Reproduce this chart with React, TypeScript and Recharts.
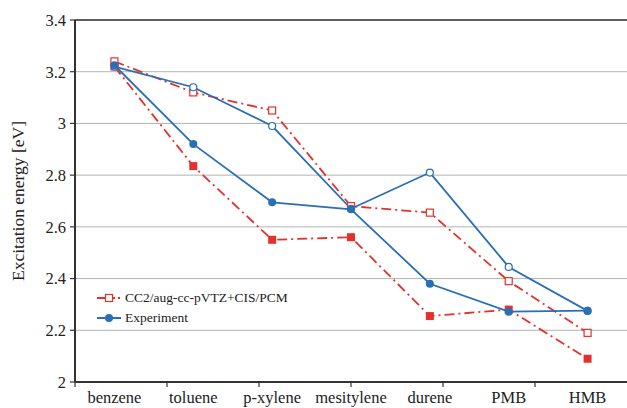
import {
  LineChart,
  Line,
  XAxis,
  YAxis,
  CartesianGrid,
  ReferenceLine,
} from "recharts";

const CATEGORIES = ["benzene", "toluene", "p-xylene", "mesitylene", "durene", "PMB", "HMB"];
const CALC_OPEN = [3.24, 3.12, 3.05, 2.68, 2.655, 2.39, 2.19];
const CALC_FILLED = [3.22, 2.835, 2.55, 2.56, 2.255, 2.28, 2.09];
const EXP_OPEN = [3.22, 3.14, 2.99, 2.67, 2.81, 2.445, 2.275];
const EXP_FILLED = [3.225, 2.92, 2.695, 2.668, 2.38, 2.272, 2.276];
const Y_TICKS = [2, 2.2, 2.4, 2.6, 2.8, 3, 3.2, 3.4];
const BOUNDARY_TICKS = [0, 1, 2, 3, 4, 5, 6, 7];

const RED = "#e3322b";
const BLUE = "#2a6fb6";
const AXIS = "#333333";
const FONT = "'Liberation Serif', 'DejaVu Serif', serif";
const DASH_DOT = "10 4 2 4";

const data = CATEGORIES.map((name, i) => ({
  name,
  calcOpen: CALC_OPEN[i],
  calcFilled: CALC_FILLED[i],
  expOpen: EXP_OPEN[i],
  expFilled: EXP_FILLED[i],
}));

type DotProps = { cx?: number; cy?: number; index?: number };

const openSquare = ({ cx = 0, cy = 0, index }: DotProps) => (
  <rect key={`os-${index}`} x={cx - 3.5} y={cy - 3.5} width={7} height={7} fill="white" stroke={RED} strokeWidth={1.2} />
);
const filledSquare = ({ cx = 0, cy = 0, index }: DotProps) => (
  <rect key={`fs-${index}`} x={cx - 4} y={cy - 4} width={8} height={8} fill={RED} stroke="none" />
);
const openCircle = ({ cx = 0, cy = 0, index }: DotProps) => (
  <circle key={`oc-${index}`} cx={cx} cy={cy} r={3.5} fill="white" stroke={BLUE} strokeWidth={1.2} />
);
const filledCircle = ({ cx = 0, cy = 0, index }: DotProps) => (
  <circle key={`fc-${index}`} cx={cx} cy={cy} r={4} fill={BLUE} stroke="none" />
);

function ChartLegend() {
  return (
    <div
      style={{
        position: "absolute",
        left: 97,
        top: 288,
        fontFamily: FONT,
        fontSize: 13.5,
        color: "#222",
        lineHeight: "20px",
      }}
    >
      <div style={{ display: "flex", alignItems: "center" }}>
        <svg width={28} height={12}>
          <line x1={0} y1={6} x2={26} y2={6} stroke={RED} strokeWidth={2} strokeDasharray="18 3 2 3" />
          <rect x={8.5} y={2.5} width={7} height={7} fill="white" stroke={RED} strokeWidth={1.2} />
        </svg>
        <span>CC2/aug-cc-pVTZ+CIS/PCM</span>
      </div>
      <div style={{ display: "flex", alignItems: "center" }}>
        <svg width={28} height={12}>
          <line x1={0} y1={6} x2={24} y2={6} stroke={BLUE} strokeWidth={2} />
          <circle cx={12} cy={6} r={4} fill={BLUE} />
        </svg>
        <span>Experiment</span>
      </div>
    </div>
  );
}

const tickStyle = { fill: "#222", fontSize: 16.5 };

export default function App() {
  return (
    <div
      className="chart-root"
      style={{
        position: "absolute",
        left: 0,
        top: 0,
        width: 627,
        height: 408,
        background: "white",
        fontFamily: FONT,
      }}
    >
      <style>{`.chart-root text, .chart-root tspan { font-family: 'Liberation Serif', 'DejaVu Serif', serif !important; }`}</style>
      <LineChart
        width={627}
        height={408}
        data={data}
        margin={{ top: 20, right: 0, bottom: 0, left: 0 }}
      >
        <CartesianGrid vertical={false} stroke="#b3b3b3" strokeWidth={1} />
        <XAxis
          xAxisId="bounds"
          type="number"
          domain={[0, 7]}
          ticks={BOUNDARY_TICKS}
          allowDataOverflow
          height={6}
          tickSize={5}
          tickFormatter={() => ""}
          axisLine={{ stroke: AXIS, strokeWidth: 2 }}
          tickLine={{ stroke: AXIS, strokeWidth: 1.2 }}
        />
        <XAxis
          xAxisId="cat"
          dataKey="name"
          scale="band"
          height={20}
          axisLine={false}
          tickLine={false}
          tickSize={0}
          tickMargin={3}
          interval={0}
          tick={tickStyle}
        />
        <YAxis
          domain={[2, 3.4]}
          ticks={Y_TICKS}
          width={75}
          tickSize={5}
          tickMargin={4}
          axisLine={{ stroke: AXIS, strokeWidth: 2 }}
          tickLine={{ stroke: AXIS, strokeWidth: 1.2 }}
          tick={tickStyle}
          label={{
            value: "Excitation energy [eV]",
            angle: -90,
            position: "insideLeft",
            offset: 18,
            style: { fill: "#222", fontSize: 17.5, textAnchor: "middle" },
          }}
        />
        <ReferenceLine y={3.4} xAxisId="cat" stroke={AXIS} strokeWidth={1.5} />
        <Line
          xAxisId="cat"
          dataKey="calcFilled"
          name="CC2 filled"
          type="linear"
          stroke={RED}
          strokeWidth={1.8}
          strokeDasharray={DASH_DOT}
          dot={filledSquare}
          activeDot={false}
          isAnimationActive={false}
        />
        <Line
          xAxisId="cat"
          dataKey="calcOpen"
          name="CC2/aug-cc-pVTZ+CIS/PCM"
          type="linear"
          stroke={RED}
          strokeWidth={1.8}
          strokeDasharray={DASH_DOT}
          dot={openSquare}
          activeDot={false}
          isAnimationActive={false}
        />
        <Line
          xAxisId="cat"
          dataKey="expOpen"
          name="Experiment open"
          type="linear"
          stroke={BLUE}
          strokeWidth={1.8}
          dot={openCircle}
          activeDot={false}
          isAnimationActive={false}
        />
        <Line
          xAxisId="cat"
          dataKey="expFilled"
          name="Experiment"
          type="linear"
          stroke={BLUE}
          strokeWidth={1.8}
          dot={filledCircle}
          activeDot={false}
          isAnimationActive={false}
        />
      </LineChart>
      <ChartLegend />
    </div>
  );
}
